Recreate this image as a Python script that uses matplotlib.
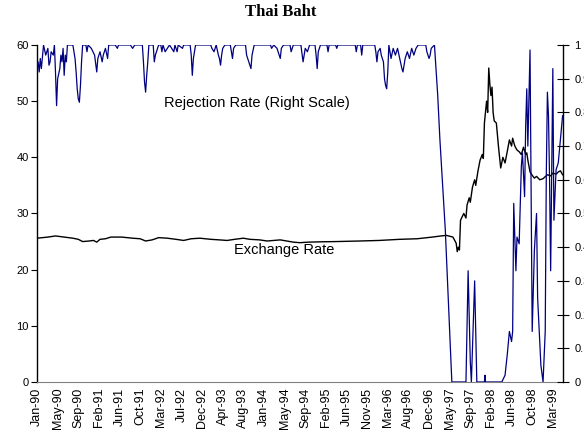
import matplotlib
matplotlib.use('Agg')
import matplotlib.pyplot as plt

plt.rcParams['font.family'] = ['Liberation Sans', 'DejaVu Sans']

# x tick labels, one every 19 weekly observations
tick_labels = ['Jan-90', 'May-90', 'Sep-90', 'Feb-91', 'Jun-91', 'Oct-91', 'Mar-92',
               'Jul-92', 'Dec-92', 'Apr-93', 'Aug-93', 'Jan-94', 'May-94', 'Sep-94',
               'Feb-95', 'Jun-95', 'Nov-95', 'Mar-96', 'Aug-96', 'Dec-96', 'May-97',
               'Sep-97', 'Feb-98', 'Jun-98', 'Oct-98', 'Mar-99']
tick_step = 19
n_weeks = 484.4

# exchange rate (baht per dollar, left scale)
fx_week = [0, 10, 17, 25, 33, 38, 42, 48, 52, 55, 58, 63, 68, 78, 88, 95, 100, 106,
           112, 120, 128, 135, 142, 150, 160, 168, 175, 182, 190, 196, 205, 212, 224,
           236, 242, 250, 260, 275, 297, 315, 334, 350, 364, 372, 377, 383, 386,
           387, 388, 389, 390, 393, 395, 396, 398, 399, 401, 403, 404, 406, 408,
           410, 411, 412, 414, 415, 416, 417, 418, 419, 420, 421, 423, 425, 427,
           429, 431, 433, 435, 437, 438, 440, 442, 444, 446, 448, 450, 451, 452,
           454, 456, 458, 460, 463, 466, 470, 473, 475, 478, 480, 482, 484]
fx_rate = [25.6, 25.8, 26.0, 25.8, 25.6, 25.4, 25.0, 25.1, 25.2, 24.9, 25.4, 25.5,
           25.8, 25.8, 25.6, 25.5, 25.1, 25.3, 25.7, 25.6, 25.4, 25.2, 25.5, 25.6,
           25.4, 25.3, 25.2, 25.4, 25.6, 25.4, 25.3, 25.1, 25.3, 24.9, 24.8, 24.9,
           24.95, 25.0, 25.1, 25.2, 25.4, 25.5, 25.8, 26.0, 26.1, 25.8, 24.7,
           23.2, 24.0, 23.5, 28.8, 30.0, 29.2, 31.5, 32.8, 32.0, 34.7, 36.0, 35.0,
           37.5, 39.5, 40.5, 39.8, 46.1, 50.0, 48.0, 55.9, 53.0, 51.0, 52.5, 48.0,
           46.5, 46.1, 41.8, 38.1, 40.0, 39.0, 41.0, 43.1, 42.0, 43.4, 42.0, 41.3,
           41.0, 40.5, 41.8, 40.5, 40.8, 39.5, 37.4, 36.8, 36.3, 36.6, 36.0, 36.2,
           36.9, 36.7, 37.2, 37.0, 37.4, 37.6, 36.9]

# rejection rate (right scale)
rej_week = [0, 1, 2, 3, 4, 6, 8, 10, 11, 12, 13, 15, 16, 17, 18, 19, 21, 22, 23, 24,
            25, 26, 27, 28, 33, 35, 36, 37, 38, 39, 40, 41, 42, 45, 46, 47, 50, 53,
            55, 56, 58, 60, 61, 63, 65, 66, 72, 74, 75, 86, 88, 90, 97, 98, 99, 100,
            101, 102, 103, 107, 108, 109, 110, 112, 114, 115, 116, 118, 120, 122,
            126, 127, 129, 130, 134, 135, 141, 142, 143, 144, 146, 160, 161, 163,
            165, 167, 168, 169, 170, 171, 173, 178, 179, 180, 181, 183, 192, 193,
            195, 196, 197, 198, 200, 215, 216, 218, 221, 222, 224, 225, 227, 233,
            234, 236, 243, 245, 247, 249, 251, 256, 257, 258, 259, 261, 267, 268,
            269, 275, 276, 277, 293, 294, 295, 298, 299, 300, 311, 312, 313, 314,
            316, 317, 319, 320, 321, 322, 323, 324, 326, 328, 330, 332, 334, 336,
            337, 339, 341, 343, 345, 347, 349, 351, 358, 359, 361, 362, 363, 366,
            369, 371, 376, 382, 395, 397, 399, 400, 403, 405, 412, 412.5, 413, 428,
            431, 433, 435, 437, 438, 439, 441, 442, 444, 446, 447, 449, 450, 451,
            452, 454, 456, 458, 460, 461, 464, 466, 468, 469, 470, 471, 472, 473,
            475, 476, 478, 480, 484]
rej_rate = [0.93, 0.95, 0.92, 0.96, 0.93, 1.0, 0.97, 0.99, 0.94, 0.95, 0.98, 0.97,
            1.0, 0.92, 0.82, 0.90, 0.93, 0.97, 0.95, 0.99, 0.91, 0.97, 0.95, 1.0,
            1.0, 0.96, 0.92, 0.87, 0.84, 0.83, 0.88, 0.95, 1.0, 1.0, 0.98, 1.0,
            0.99, 0.97, 0.92, 0.96, 0.98, 0.95, 0.97, 0.99, 0.96, 1.0, 1.0, 0.99,
            1.0, 1.0, 0.99, 1.0, 1.0, 0.95, 0.89, 0.86, 0.91, 0.95, 1.0, 1.0, 0.95,
            0.97, 0.98, 1.0, 1.0, 0.98, 1.0, 0.98, 0.99, 1.0, 0.98, 1.0, 0.98, 1.0,
            0.99, 1.0, 1.0, 0.97, 0.91, 0.96, 1.0, 1.0, 0.99, 0.98, 1.0, 0.97, 0.96,
            0.94, 0.97, 0.99, 1.0, 1.0, 0.98, 0.96, 0.99, 1.0, 1.0, 0.97, 0.95,
            0.94, 0.93, 0.97, 1.0, 1.0, 0.99, 1.0, 0.99, 0.98, 0.96, 0.99, 1.0, 1.0,
            0.98, 1.0, 1.0, 0.95, 0.99, 0.98, 1.0, 1.0, 0.97, 0.93, 0.98, 1.0, 1.0,
            0.98, 1.0, 1.0, 0.99, 1.0, 1.0, 0.98, 1.0, 1.0, 0.97, 1.0, 1.0, 0.98,
            0.95, 0.98, 0.99, 0.97, 0.95, 0.90, 0.88, 0.87, 0.92, 1.0, 0.96, 0.99,
            0.97, 0.99, 0.96, 0.93, 0.92, 0.96, 0.98, 0.96, 0.99, 0.97, 0.99, 1.0,
            1.0, 0.98, 0.96, 0.97, 0.99, 1.0, 0.85, 0.72, 0.45, 0.0, 0.0, 0.33,
            0.06, 0.0, 0.30, 0.0, 0.0, 0.02, 0.0, 0.0, 0.02, 0.08, 0.15, 0.12, 0.15,
            0.53, 0.33, 0.43, 0.41, 0.64, 0.68, 0.55, 0.76, 0.87, 0.70, 0.985, 0.15,
            0.39, 0.50, 0.25, 0.05, 0.0, 0.15, 0.62, 0.86, 0.79, 0.60, 0.33, 0.93,
            0.48, 0.63, 0.65, 0.79]

fig = plt.figure(figsize=(5.84, 4.36), dpi=100)
ax = fig.add_axes([0.0634, 0.1239, 0.9007, 0.7729])
ax.plot(fx_week, fx_rate, color='black', lw=1.0)
ax.set_xlim(0, n_weeks)
ax.set_ylim(0, 60)
ax.set_yticks(range(0, 61, 10))
ax.set_xticks([i * tick_step for i in range(len(tick_labels))])
ax.set_xticklabels(tick_labels, rotation=90, fontsize=9)
ax.tick_params(axis='x', length=0, pad=4)
ax.tick_params(axis='y', direction='out', length=4, width=0.8, labelsize=8, pad=2)
ax.spines['top'].set_visible(False)
ax.spines['right'].set_visible(False)
ax.spines['bottom'].set_color('#808080')
ax.spines['left'].set_linewidth(1.0)

ax2 = ax.twinx()
ax2.plot(rej_week, rej_rate, color='#000080', lw=0.9)
ax2.set_ylim(0, 1)
ax2.set_yticks([i / 10 for i in range(11)])
ax2.set_yticklabels(['0'] + ['0.%d' % i for i in range(1, 10)] + ['1'])
ax2.tick_params(axis='y', direction='inout', length=8, width=0.8, labelsize=8, pad=4)
for s in ['top', 'left', 'bottom']:
    ax2.spines[s].set_visible(False)
ax2.spines['right'].set_linewidth(1.0)

ax.text(202.6, 49.7, 'Rejection Rate (Right Scale)', fontsize=10.5, ha='center', va='center')
ax.text(227.5, 23.5, 'Exchange Rate', fontsize=10.5, ha='center', va='center')
fig.text(0.481, 0.972, 'Thai Baht', fontsize=12, fontweight='bold',
         family=['Liberation Serif', 'DejaVu Serif'], ha='center', va='center')

fig.savefig('out.png', dpi=100)
